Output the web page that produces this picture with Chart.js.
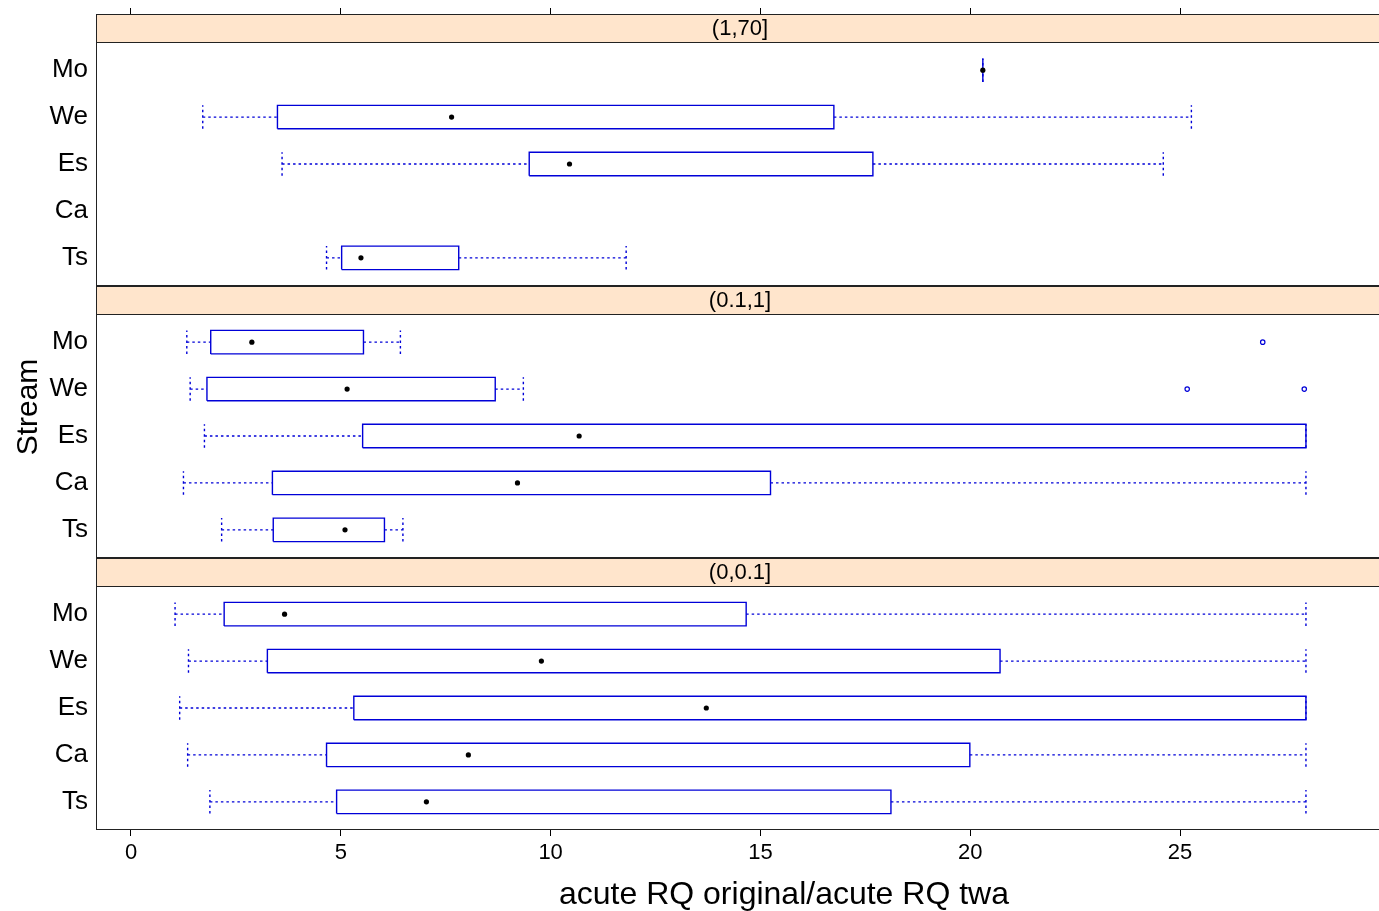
<!DOCTYPE html>
<html>
<head>
<meta charset="utf-8">
<title>acute RQ original/acute RQ twa by stream</title>
<script src="https://cdn.jsdelivr.net/npm/chart.js@4.4.1/dist/chart.umd.min.js"></script>
<style>
  html, body { margin: 0; padding: 0; background: #fff; overflow: hidden; }
  .panel { position: absolute; left: 0; width: 1568px; }
  #p1 { top: 0; height: 286px; }
  #p2 { top: 286px; height: 272px; }
  #p3 { top: 558px; height: 353px; }
</style>
</head>
<body>
<div class="panel" id="p1"><canvas id="c1"></canvas></div>
<div class="panel" id="p2"><canvas id="c2"></canvas></div>
<div class="panel" id="p3"><canvas id="c3"></canvas></div>
<script>
// streams, bottom (1) to top (5) of every panel
const streams = ["Ts", "Ca", "Es", "We", "Mo"];
const xTicks = [0, 5, 10, 15, 20, 25];

// (1,70]
const hiStrip = "(1,70]";
const hiLow  = [4.66, null, 3.60, 1.71, 20.30];
const hiQ1   = [5.02, null, 9.49, 3.49, 20.30];
const hiMed  = [5.48, null, 10.45, 7.64, 20.30];
const hiQ3   = [7.81, null, 17.68, 16.75, 20.30];
const hiHigh = [11.80, null, 24.60, 25.27, 20.30];
const hiOutStream = [];
const hiOutValue = [];

// (0.1,1]
const midStrip = "(0.1,1]";
const midLow  = [2.16, 1.25, 1.75, 1.41, 1.33];
const midQ1   = [3.39, 3.37, 5.52, 1.81, 1.90];
const midMed  = [5.10, 9.21, 10.68, 5.15, 2.88];
const midQ3   = [6.04, 15.24, 28.00, 8.68, 5.54];
const midHigh = [6.48, 28.00, 28.00, 9.35, 6.42];
const midOutStream = ["We", "We", "Mo"];
const midOutValue = [25.17, 27.96, 26.97];

// (0,0.1]
const loStrip = "(0,0.1]";
const loLow  = [1.88, 1.35, 1.16, 1.37, 1.05];
const loQ1   = [4.90, 4.66, 5.31, 3.25, 2.22];
const loMed  = [7.04, 8.04, 13.71, 9.78, 3.66];
const loQ3   = [18.11, 19.99, 28.00, 20.71, 14.66];
const loHigh = [28.00, 28.00, 28.00, 28.00, 28.00];
const loOutStream = [];
const loOutValue = [];

const xTitle = "acute RQ original/acute RQ twa";
const yTitle = "Stream";

const FONT = "'Liberation Sans', Arial, sans-serif";
const BOX = "#0000d8";
const boxHalf = 0.25;                  // half the box height, in category units
const yMin = 0.4, yMax = 5.6;
const stripUnits = 5.2 * 28 / 244;     // strip band on top of each panel
const xMin = -0.834, xMax = 29.86;

const gap = () => ({ x: null, y: null });

function boxData(low, q1, med, q3, high, outStream, outValue) {
  const boxes = [], whiskers = [], medians = [], outliers = [];
  streams.forEach((s, i) => {
    if (q1[i] == null) return;
    const y = i + 1;
    boxes.push({ x: q1[i], y: y - boxHalf }, { x: q3[i], y: y - boxHalf },
               { x: q3[i], y: y + boxHalf }, { x: q1[i], y: y + boxHalf },
               { x: q1[i], y: y - boxHalf }, gap());
    whiskers.push({ x: low[i], y }, { x: q1[i], y }, gap(),
                  { x: q3[i], y }, { x: high[i], y }, gap(),
                  { x: low[i], y: y - boxHalf }, { x: low[i], y: y + boxHalf }, gap(),
                  { x: high[i], y: y - boxHalf }, { x: high[i], y: y + boxHalf }, gap());
    medians.push({ x: med[i], y });
  });
  outStream.forEach((s, k) => outliers.push({ x: outValue[k], y: streams.indexOf(s) + 1 }));
  return [
    { data: medians, pointRadius: 2.6, pointBackgroundColor: "#000", pointBorderWidth: 0 },
    { data: outliers, pointRadius: 2.2, pointBackgroundColor: "rgba(0,0,0,0)",
      pointBorderColor: BOX, pointBorderWidth: 1.2 },
    { data: boxes, showLine: true, pointRadius: 0, borderColor: BOX, borderWidth: 1.4,
      borderJoinStyle: "miter" },
    { data: whiskers, showLine: true, pointRadius: 0, borderColor: BOX, borderWidth: 1.4,
      borderDash: [2.5, 3] }
  ];
}

// strip header, panel frame and the outer axis titles
const stripPlugin = {
  id: "strip",
  beforeDatasetsDraw(chart, args, opts) {
    const { ctx, chartArea: a, scales: { y } } = chart;
    const sb = Math.round(y.getPixelForValue(yMax));
    ctx.save();
    ctx.fillStyle = "#ffe5cc";
    ctx.fillRect(a.left, a.top, a.right - a.left, sb - a.top);
    ctx.restore();
  },
  afterDraw(chart, args, opts) {
    const { ctx, chartArea: a, scales: { y } } = chart;
    const sb = Math.round(y.getPixelForValue(yMax));
    ctx.save();
    ctx.strokeStyle = "#222";
    ctx.lineWidth = 1;
    ctx.strokeRect(a.left + 0.5, a.top + 0.5, a.right - a.left - 1, a.bottom - a.top - 1);
    ctx.beginPath();
    ctx.moveTo(a.left, sb + 0.5);
    ctx.lineTo(a.right, sb + 0.5);
    ctx.stroke();
    ctx.fillStyle = "#000";
    ctx.font = "22px " + FONT;
    ctx.textAlign = "center";
    ctx.textBaseline = "middle";
    ctx.fillText(opts.label, (a.left + a.right) / 2, (a.top + sb) / 2 + 1);
    ctx.textBaseline = "alphabetic";
    if (opts.xlab) {
      ctx.font = "32px " + FONT;
      ctx.fillText(opts.xlab, opts.xlabX, opts.xlabY);
    }
    if (opts.ylab) {
      ctx.translate(opts.ylabX, opts.ylabY);
      ctx.rotate(-Math.PI / 2);
      ctx.font = "30px " + FONT;
      ctx.fillText(opts.ylab, 0, 0);
    }
    ctx.restore();
  }
};

function panelChart(id, label, series, xAxis, extra) {
  const bottomAxis = xAxis === "bottom";
  const axisHeight = { top: 14, none: 0, bottom: 353 - 272 }[xAxis];
  return new Chart(document.getElementById(id), {
    type: "scatter",
    data: { datasets: boxData(...series) },
    plugins: [stripPlugin],
    options: {
      responsive: true,
      maintainAspectRatio: false,
      animation: false,
      events: [],
      layout: { autoPadding: false, padding: { left: 0, right: 184, top: 0, bottom: 0 } },
      plugins: {
        legend: { display: false },
        tooltip: { enabled: false },
        title: { display: false },
        strip: Object.assign({ label }, extra)
      },
      scales: {
        x: {
          type: "linear",
          display: xAxis !== "none",
          position: bottomAxis ? "bottom" : "top",
          min: xMin,
          max: xMax,
          afterBuildTicks: s => { s.ticks = xTicks.map(v => ({ value: v })); },
          afterFit: s => {
            s.height = axisHeight;
            s.paddingLeft = s.paddingRight = 0;
          },
          grid: { drawOnChartArea: false, drawTicks: true, tickLength: 6, color: "#000" },
          border: { display: false },
          ticks: {
            display: bottomAxis,
            color: "#000",
            padding: 4,
            maxRotation: 0,
            autoSkip: false,
            font: { family: FONT, size: 22 }
          }
        },
        y: {
          type: "linear",
          min: yMin,
          max: yMax + stripUnits,
          afterBuildTicks: s => { s.ticks = streams.map((n, i) => ({ value: i + 1 })); },
          afterFit: s => {
            s.width = 96;
            s.paddingTop = s.paddingBottom = 0;
          },
          grid: { display: false, drawTicks: false },
          border: { display: false },
          ticks: {
            color: "#000",
            padding: 8,
            font: { family: FONT, size: 26 },
            callback: v => streams[Math.round(v) - 1]
          }
        }
      }
    }
  });
}

panelChart("c1", hiStrip, [hiLow, hiQ1, hiMed, hiQ3, hiHigh, hiOutStream, hiOutValue], "top", {});
panelChart("c2", midStrip, [midLow, midQ1, midMed, midQ3, midHigh, midOutStream, midOutValue], "none",
  { ylab: yTitle, ylabX: 37, ylabY: 121 });
panelChart("c3", loStrip, [loLow, loQ1, loMed, loQ3, loHigh, loOutStream, loOutValue], "bottom",
  { xlab: xTitle, xlabX: 784, xlabY: 346 });
</script>
</body>
</html>
